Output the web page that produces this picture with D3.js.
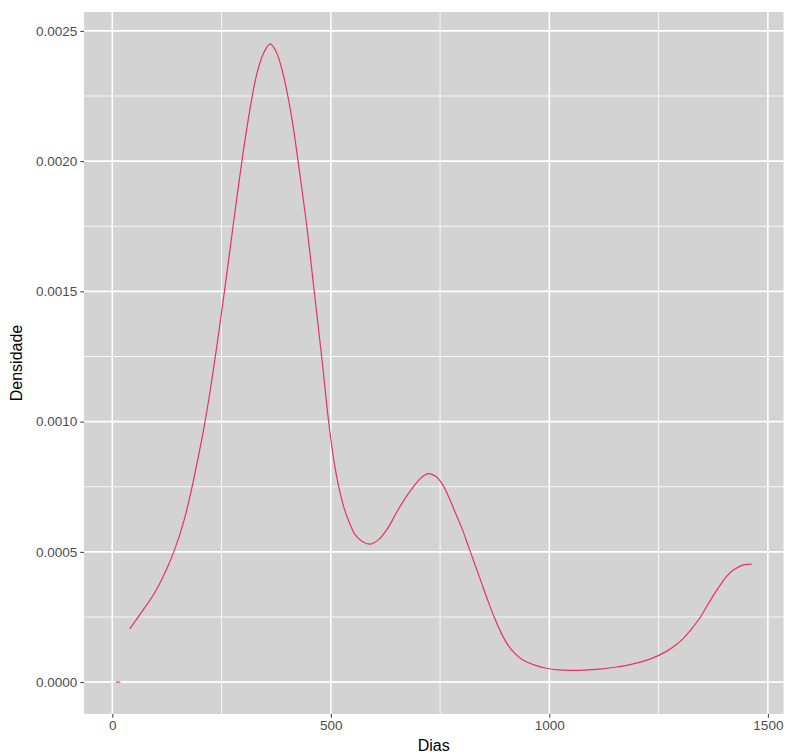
<!DOCTYPE html>
<html><head><meta charset="utf-8">
<script src="https://cdn.jsdelivr.net/npm/d3@7"></script>
<style>body{margin:0;background:#fff} text{font-family:Arial,"Liberation Sans",sans-serif}</style>
</head><body><svg id="c" width="787" height="755"></svg>
<script>
const xTicks=[0,500,1000,1500];
const xTickLabels=["0","500","1000","1500"];
const yTicks=[0,0.0005,0.001,0.0015,0.002,0.0025];
const yTickLabels=["0.0000","0.0005","0.0010","0.0015","0.0020","0.0025"];
const xMinor=[250,750,1250];
const yMinor=[0.00025,0.00075,0.00125,0.00175,0.00225];
// short isolated piece near zero
const segDias=[8,18];
const segDens=[0,0];
// main density curve
const dias=[40,65,96,126,145,164,180,195,209,225,240,255,270,285,300,315,330,345,361,375,390,405,415,425,445,462,479,495,507,518,530,543,556,572,590,610,630,650,670,690,707,723,740,755,770,785,800,815,830,845,860,875,890,905,920,935,950,970,994,1020,1047,1080,1116,1150,1185,1230,1268,1290,1306,1325,1345,1367,1390,1405,1421,1444,1463];
const dens=[0.000204,0.000264,0.00034,0.00044,0.00052,0.00062,0.00073,0.00085,0.00097,0.00113,0.0013,0.00148,0.00167,0.00186,0.00204,0.0022,0.00233,0.00241,0.00245,0.00242,0.00234,0.00222,0.00212,0.002,0.00175,0.0015,0.00125,0.001,0.00085,0.00075,0.00067,0.00061,0.000565,0.00054,0.00053,0.000548,0.00059,0.00065,0.000705,0.000752,0.000785,0.0008,0.00079,0.00076,0.00071,0.00065,0.00059,0.00052,0.00045,0.00038,0.00031,0.000245,0.000188,0.000143,0.000112,0.00009,0.000076,0.000063,0.000053,0.000047,0.000045,0.000046,0.00005,0.000057,0.000067,0.000088,0.000118,0.000143,0.000167,0.000203,0.000248,0.00031,0.00037,0.000405,0.00043,0.00045,0.000453];

const svg=d3.select("#c");
const P={l:84,r:783.5,t:12,b:714};
const xe=d3.extent(dias.concat(segDias)), ye=d3.extent(dens.concat(segDens));
const xp=(xe[1]-xe[0])*0.05, yp=(ye[1]-ye[0])*0.05;
const x=d3.scaleLinear().domain([xe[0]-xp,xe[1]+xp]).range([P.l,P.r]);
const y=d3.scaleLinear().domain([ye[0]-yp,ye[1]+yp]).range([P.b,P.t]);

svg.append("rect").attr("x",P.l).attr("y",P.t).attr("width",P.r-P.l).attr("height",P.b-P.t).attr("fill","#D3D3D3");
const g=svg.append("g");
g.selectAll(".xm").data(xMinor).join("line").attr("x1",d=>x(d)).attr("x2",d=>x(d)).attr("y1",P.t).attr("y2",P.b).attr("stroke","#fff").attr("stroke-width",0.8);
g.selectAll(".ym").data(yMinor).join("line").attr("y1",d=>y(d)).attr("y2",d=>y(d)).attr("x1",P.l).attr("x2",P.r).attr("stroke","#fff").attr("stroke-width",0.8);
g.selectAll(".xM").data(xTicks).join("line").attr("x1",d=>x(d)).attr("x2",d=>x(d)).attr("y1",P.t).attr("y2",P.b).attr("stroke","#fff").attr("stroke-width",1.6);
g.selectAll(".yM").data(yTicks).join("line").attr("y1",d=>y(d)).attr("y2",d=>y(d)).attr("x1",P.l).attr("x2",P.r).attr("stroke","#fff").attr("stroke-width",1.6);

const line=d3.line().x(d=>x(d[0])).y(d=>y(d[1])).curve(d3.curveCatmullRom.alpha(0.5));
svg.append("path").datum(d3.zip(segDias,segDens)).attr("d",line).attr("fill","none").attr("stroke","#e8335f").attr("stroke-width",1.2);
svg.append("path").datum(d3.zip(dias,dens)).attr("d",line).attr("fill","none").attr("stroke","#e8335f").attr("stroke-width",1.2);

const xa=d3.axisBottom(x).tickValues(xTicks).tickFormat((d,i)=>xTickLabels[i]).tickSize(3.7).tickPadding(3);
const ax=svg.append("g").attr("transform",`translate(0,${P.b})`).call(xa);
const ya=d3.axisLeft(y).tickValues(yTicks).tickFormat((d,i)=>yTickLabels[i]).tickSize(3.7).tickPadding(3);
const ay=svg.append("g").attr("transform",`translate(${P.l},0)`).call(ya);
[ax,ay].forEach(a=>{a.select(".domain").remove();a.selectAll(".tick line").attr("stroke","#333");a.selectAll(".tick text").attr("fill","#4d4d4d").style("font-size","13.5px").style("font-family","Arial, 'Liberation Sans', sans-serif");});

svg.append("text").attr("x",(P.l+P.r)/2).attr("y",751).attr("text-anchor","middle").style("font-size","16px").attr("fill","#000").text("Dias");
svg.append("text").attr("transform",`translate(22,${(P.t+P.b)/2}) rotate(-90)`).attr("text-anchor","middle").style("font-size","16px").attr("fill","#000").text("Densidade");
</script></body></html>
